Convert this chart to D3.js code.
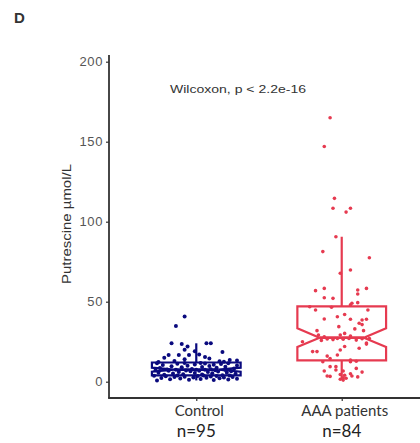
<!DOCTYPE html>
<html>
<head>
<meta charset="utf-8">
<script src="https://cdn.jsdelivr.net/npm/d3@7"></script>
<style>
    body { margin: 0; background: #fff; }
</style>
</head>
<body>
<script>
(function () {
    "use strict";

    // categories and labels
    var groups = ["Control", "AAA patients"];
    var groupCounts = ["n=95", "n=84"];
    var yTicks = [0, 50, 100, 150, 200];
    var testLabel = "Wilcoxon, p < 2.2e-16";

    // putrescine (umol/L), sorted
    var controlValues = [
        0.8, 1, 1.2, 1.4, 1.5, 1.7, 1.8, 2, 2.1, 2.3, 2.4, 2.6, 2.7, 2.9, 3, 3.1, 3.2, 3.4, 3.5, 3.6, 3.7, 3.8, 3.85, 3.9,
        4.1, 4.3, 4.5, 4.7, 4.9, 5.1, 5.3, 5.5, 5.6, 5.8, 6, 6.1, 6.3, 6.5, 6.6, 6.8, 6.9, 7, 7.1, 7.2, 7.3, 7.4, 7.4,
        7.5,
        7.6, 7.8, 8, 8.2, 8.5, 8.7, 9, 9.2, 9.4, 9.6, 9.8, 10, 10.2, 10.4, 10.6, 10.8, 11, 11.2, 11.4, 11.5, 11.6, 11.7, 11.7,
        12.3, 12.5, 12.8, 13, 13.2, 13.5, 14, 14.5, 15, 15.5, 16.7, 16.7, 16.7, 17, 18.6, 19, 20, 22, 23.5, 24, 24, 24, 34.8, 40.8
    ];
    // horizontal jitter of each point, in category units
    var controlJitter = [
        -0.27, 0.12, -0.05, 0.22, -0.18, 0.03, 0.28, -0.11, 0.16, -0.24, 0.07, -0.02, 0.19, -0.15, 0.25, -0.08, 0.1, -0.21, 0.01, 0.14, -0.29, 0.05, -0.13, 0.23,
        0.18, -0.22, 0.04, -0.09, 0.27, -0.16, 0.11, -0.01, 0.21, -0.26, 0.08, -0.12, 0.15, -0.04, 0.24, -0.19, 0.02, -0.07, 0.13, -0.28, 0.2, -0.14, 0.06,
        0.0,
        -0.2, 0.1, -0.03, 0.26, -0.25, 0.14, -0.1, 0.04, 0.2, -0.17, 0.09, -0.06, 0.28, -0.23, 0.12, -0.01, 0.17, -0.13, 0.06, -0.27, 0.22, -0.08, 0.03,
        -0.26, 0.19, 0.16, -0.15, 0.28, 0.23, -0.08, 0.09, -0.22, 0.06, -0.19, -0.12, -0.05, 0.02, 0.18, -0.01, -0.08, -0.06, -0.1, -0.17, 0.07, 0.1, -0.14, -0.08
    ];

    var aaaValues = [
        1, 1.5, 2.2, 2.5, 3, 3.3, 3.6, 3.6, 4, 4.5, 5, 6, 6.7, 6.7, 7.3, 8.3, 9.4, 9.4, 12.5, 12.5, 12.8,
        13.5, 14.5, 16, 16.7, 18.8, 18.8, 19.8, 20.9, 22, 23.5, 24.2, 25, 25.8, 26, 26.3, 26.5, 26.7, 26.8, 27, 27, 27,
        28, 28.5, 29.2, 29.2, 30.2, 31.9, 31.9, 33, 34.4, 35.7, 36.5, 38.6, 39, 39, 39.2, 40.6, 42, 44.8, 44.8, 46.5, 46.8,
        48, 49, 49.4, 52.1, 52.5, 54.8, 56.9, 57.3, 58.3, 58.3, 67.8, 69.8, 77.5, 81.3, 90.6, 106, 108.4, 108.4, 114.6, 147, 165
    ];
    var aaaJitter = [
        0.01, -0.01, 0.03, 0.01, 0.11, -0.08, -0.1, 0.07, 0.02, -0.01, 0.06, 0.14, -0.12, 0.01, -0.04, 0.1, -0.08, -0.04, -0.13, 0.06, 0.1,
        0.06, -0.08, -0.1, -0.03, -0.2, -0.17, -0.01, 0.12, 0.02, 0.17, 0.17, -0.27, -0.14, 0.1, -0.06, 0.01, -0.1, 0.14, 0.05, -0.03, 0.19,
        -0.12, 0.06, -0.16, -0.01, 0.02, -0.17, 0.15, 0.09, -0.02, 0.14, 0.12, 0.14, 0.17, 0.06, -0.12, -0.03, 0.02, -0.18, 0.18, -0.07, -0.22,
        0.06, 0.07, 0.11, -0.06, -0.12, 0.11, -0.18, 0.11, -0.12, 0.17, -0.01, 0.06, 0.19, -0.13, -0.04, 0.03, -0.06, 0.06, -0.05, -0.12, -0.08
    ];

    var series = [
        {name: groups[0], values: controlValues, jitter: controlJitter, color: "#0a0a7e", r: 2},
        {name: groups[1], values: aaaValues, jitter: aaaJitter, color: "#e63a50", r: 1.8}
    ];

    var width = 420, height = 443;
    var axisLeft = 109, axisBottom = 398, axisTop = 55;

    var svg = d3.select("body").append("svg")
        .attr("width", width)
        .attr("height", height)
        .style("font-family", "'Liberation Sans', Arial, sans-serif");

    var x = d3.scalePoint()
        .domain(groups)
        .range([axisLeft, 429])
        .padding(0.6);

    var y = d3.scaleLinear()
        .domain([0, 200])
        .range([381.7, 61.7]);

    var boxWidth = 0.61 * x.step();

    // quartiles as in ggplot (type 7), whiskers at 1.5 IQR, notch 1.58 IQR / sqrt(n)
    function boxStats(values) {
        var s = values.slice().sort(d3.ascending);
        var q1 = d3.quantileSorted(s, 0.25);
        var med = d3.quantileSorted(s, 0.5);
        var q3 = d3.quantileSorted(s, 0.75);
        var iqr = q3 - q1;
        var lo = d3.min(s.filter(function (v) { return v >= q1 - 1.5 * iqr; }));
        var hi = d3.max(s.filter(function (v) { return v <= q3 + 1.5 * iqr; }));
        var notch = 1.58 * iqr / Math.sqrt(s.length);
        return {q1: q1, med: med, q3: q3, lo: lo, hi: hi, nlo: med - notch, nhi: med + notch};
    }

    // panel letter
    svg.append("text")
        .attr("x", 14)
        .attr("y", 23)
        .attr("font-size", 15)
        .attr("font-weight", "bold")
        .attr("fill", "#333")
        .text("D");

    var plot = svg.append("g");

    series.forEach(function (d) {
        var st = boxStats(d.values);
        var cx = x(d.name);
        var x0 = cx - boxWidth / 2, x1 = cx + boxWidth / 2;
        var inset = boxWidth * 0.25;
        var g = plot.append("g")
            .attr("stroke", d.color)
            .attr("stroke-width", 2.2)
            .attr("fill", "none");

        // whiskers
        g.append("line")
            .attr("x1", cx).attr("x2", cx)
            .attr("y1", y(st.q3)).attr("y2", y(st.hi));
        g.append("line")
            .attr("x1", cx).attr("x2", cx)
            .attr("y1", y(st.q1)).attr("y2", y(st.lo));

        // notched box
        var pts = [
            [x0, st.q3], [x0, st.nhi], [x0 + inset, st.med], [x0, st.nlo], [x0, st.q1],
            [x1, st.q1], [x1, st.nlo], [x1 - inset, st.med], [x1, st.nhi], [x1, st.q3]
        ];
        g.append("path")
            .attr("fill", "#fff")
            .attr("d", d3.line().x(function (p) { return p[0]; }).y(function (p) { return y(p[1]); })(pts) + "Z");

        g.append("line")
            .attr("x1", x0 + inset).attr("x2", x1 - inset)
            .attr("y1", y(st.med)).attr("y2", y(st.med))
            .attr("stroke-width", 2.8);

        // jittered points
        plot.append("g").selectAll("circle")
            .data(d.values)
            .join("circle")
            .attr("cx", function (v, i) { return cx + d.jitter[i] * x.step(); })
            .attr("cy", function (v) { return y(v); })
            .attr("r", d.r)
            .attr("fill", d.color);
    });

    // axes
    var yAxis = svg.append("g")
        .attr("transform", "translate(" + axisLeft + ",0)")
        .call(d3.axisLeft(y).tickValues(yTicks).tickSize(3).tickPadding(3));
    yAxis.select(".domain").remove();
    yAxis.selectAll(".tick line").attr("stroke", "#333").attr("stroke-width", 1.2);
    yAxis.selectAll(".tick text")
        .attr("font-size", 13)
        .attr("letter-spacing", 0.6)
        .attr("font-family", "'Liberation Sans', Arial, sans-serif")
        .attr("fill", "#555");

    var xAxis = svg.append("g")
        .attr("transform", "translate(0," + axisBottom + ")")
        .call(d3.axisBottom(x).tickSize(3).tickFormat(""));
    xAxis.select(".domain").remove();
    xAxis.selectAll(".tick line").attr("stroke", "#333").attr("stroke-width", 1.2);

    svg.append("line")
        .attr("x1", axisLeft).attr("x2", axisLeft)
        .attr("y1", axisTop).attr("y2", axisBottom)
        .attr("stroke", "#333").attr("stroke-width", 1.8);
    svg.append("line")
        .attr("x1", axisLeft - 0.9).attr("x2", width)
        .attr("y1", axisBottom).attr("y2", axisBottom)
        .attr("stroke", "#333").attr("stroke-width", 1.8);

    // category labels and counts
    svg.append("g").selectAll("text")
        .data(groups)
        .join("text")
        .attr("x", function (d) { return x(d) + 3; })
        .attr("y", 416)
        .attr("text-anchor", "middle")
        .attr("font-family", "Lato, 'Open Sans', sans-serif")
        .attr("font-size", 15)
        .attr("fill", "#333")
        .text(function (d) { return d; });

    svg.append("g").selectAll("text")
        .data(groupCounts)
        .join("text")
        .attr("x", function (d, i) { return x(groups[i]); })
        .attr("y", 437)
        .attr("text-anchor", "middle")
        .attr("font-family", "Lato, 'Open Sans', sans-serif")
        .attr("font-size", 17)
        .attr("fill", "#222")
        .text(function (d) { return d; });

    // y label
    svg.append("text")
        .attr("transform", "translate(71,224) rotate(-90)")
        .attr("text-anchor", "middle")
        .attr("font-size", 12.5)
        .attr("textLength", 120)
        .attr("lengthAdjust", "spacingAndGlyphs")
        .attr("fill", "#333")
        .text("Putrescine \u00b5mol/L");

    svg.append("text")
        .attr("x", 170)
        .attr("y", 93)
        .attr("font-size", 11)
        .attr("textLength", 136)
        .attr("lengthAdjust", "spacingAndGlyphs")
        .attr("fill", "#333")
        .text(testLabel);
})();
</script>
</body>
</html>
